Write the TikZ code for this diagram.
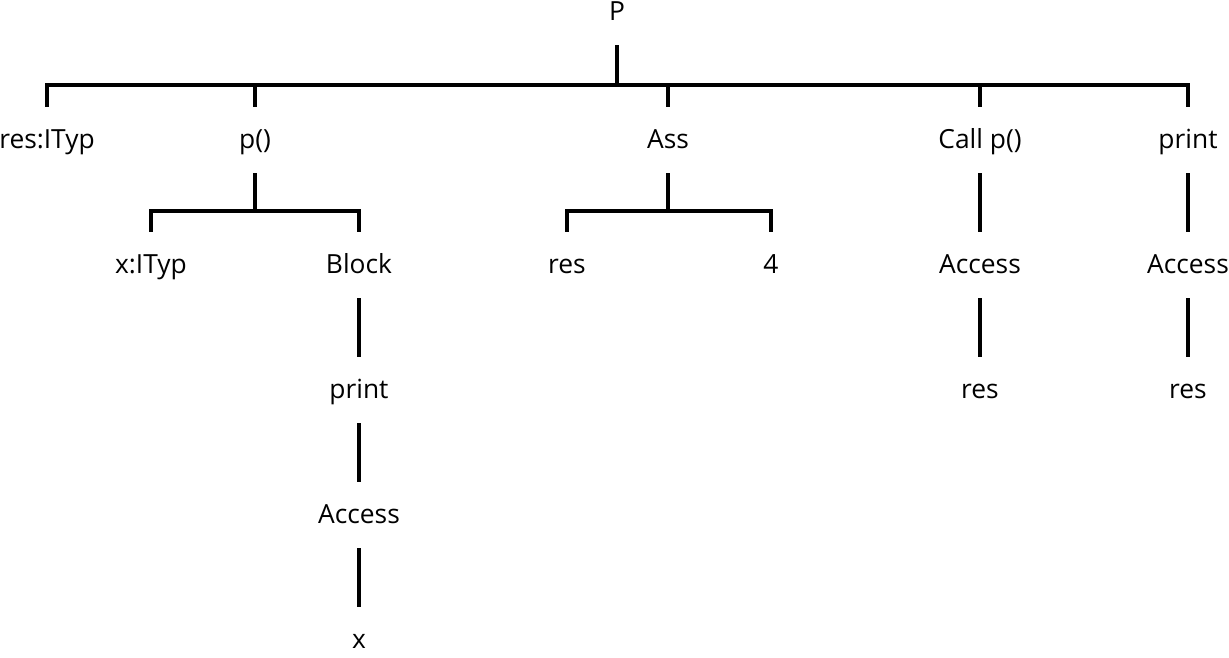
\documentclass[tikz,border=0pt]{standalone}
\usepackage{fontspec}
\setmainfont{Open Sans}
\usepackage{tikz}
\usetikzlibrary{positioning}

\tikzset{
  lbl/.style={inner sep=0pt, minimum height=1.32cm, text height=2.1ex, text depth=.35ex,
    font=\fontsize{15}{18}\selectfont},
  edge/.style={line width=2.3pt}
}

\begin{document}
\begin{tikzpicture}[x=0.02cm, y=-0.02cm]
    \useasboundingbox (0,0) rectangle (1229,657);
    % root and first level
    \node[lbl] (P) at (617,12) {P};
    \node[lbl] (resT) at (47,140) {res:ITyp};
    \node[lbl] (pF) at (255,140) {p()};
    \node[lbl] (ass) at (668,140) {Ass};
    \node[lbl] (callP) at (980,140) {Call p()};
    \node[lbl] (prtA) at (1188,140) {print};
    % second level
    \node[lbl] (xT) at (151,265) {x:ITyp};
    \node[lbl] (blk) at (359,265) {Block};
    \node[lbl] (resA) at (567,265) {res};
    \node[lbl] (four) at (771,265) {4};
    \node[lbl] (accC) at (980,265) {Access};
    \node[lbl] (accP) at (1188,265) {Access};
    % deeper levels
    \node[lbl] (prtB) at (359,390) {print};
    \node[lbl] (accB) at (359,515) {Access};
    \node[lbl] (xB) at (359,640) {x};
    \node[lbl] (resC) at (980,390) {res};
    \node[lbl] (resP) at (1188,390) {res};

    \foreach \c in {resT,pF,ass,callP,prtA}
      \draw[edge] (P.south) -- ++(0,40) -| (\c.north);
    \foreach \c in {xT,blk}
      \draw[edge] (pF.south) -- ++(0,38) -| (\c.north);
    \foreach \c in {resA,four}
      \draw[edge] (ass.south) -- ++(0,38) -| (\c.north);
    \draw[edge] (callP) -- (accC);
    \draw[edge] (accC) -- (resC);
    \draw[edge] (prtA) -- (accP);
    \draw[edge] (accP) -- (resP);
    \draw[edge] (blk) -- (prtB);
    \draw[edge] (prtB) -- (accB);
    \draw[edge] (accB) -- (xB);
\end{tikzpicture}
\end{document}
